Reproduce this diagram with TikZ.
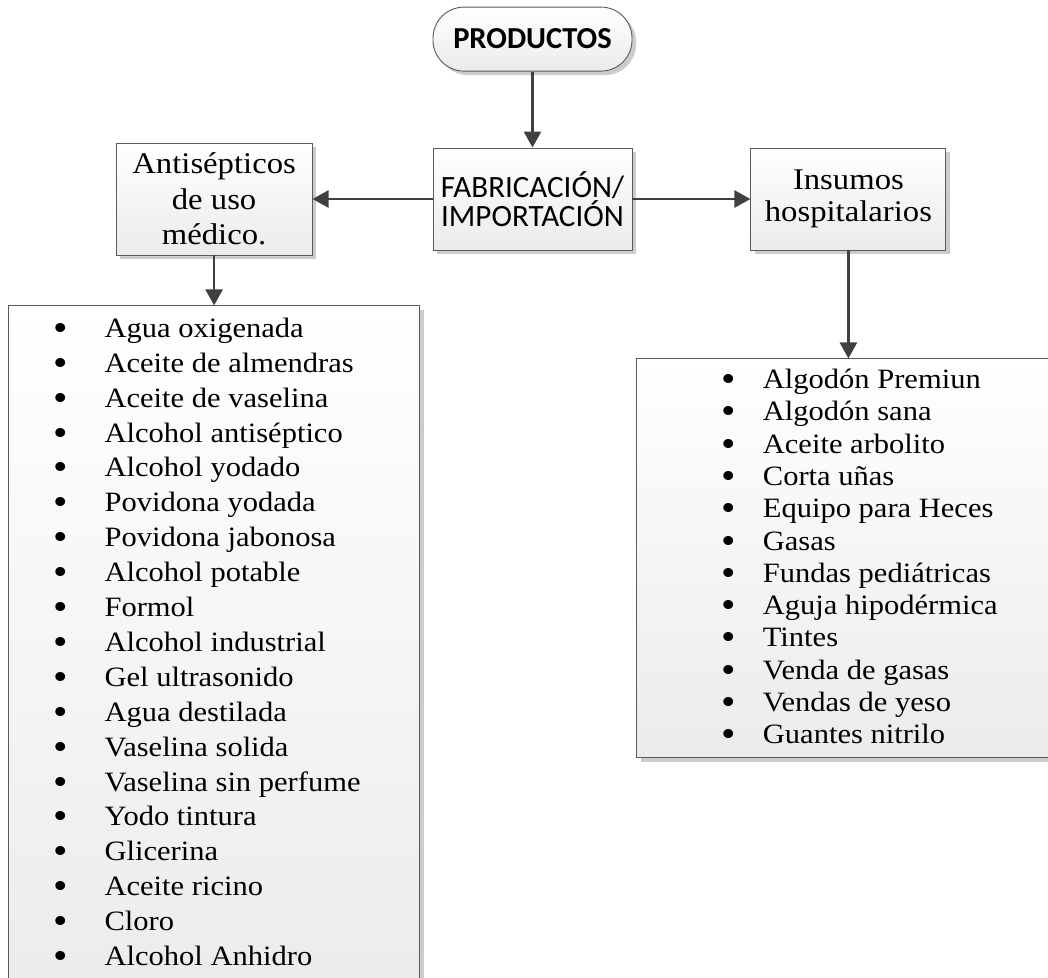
\documentclass[tikz,border=0pt]{standalone}
\usepackage{fontspec}
\setmainfont[FakeStretch=1.09]{Liberation Serif}
\newfontfamily\calfont{Carlito}
\usepackage{graphicx}
\usetikzlibrary{shapes,arrows.meta,positioning,shadows}

\definecolor{linegray}{HTML}{5A5A5A}
\definecolor{arrowgray}{HTML}{404040}
\definecolor{shadowgray}{HTML}{CCCCCC}
\definecolor{fillgray}{HTML}{EBEBEB}

% one line of a bullet list: indent, bullet, gap
\newcommand{\bulmark}{\smash{\raisebox{-3pt}{\scalebox{1.35}{•}}}}
\newcommand{\litem}[1]{\hspace*{38pt}\makebox[28pt][c]{\bulmark}\hspace{30pt}#1\strut\par}
\newcommand{\ritem}[1]{\hspace*{78pt}\makebox[28pt][c]{\bulmark}\hspace{20pt}#1\strut\par}

\begin{document}
\begin{tikzpicture}[
    x=1pt, y=1pt,
    box/.style={rectangle, draw=linegray, line width=0.9pt, top color=white, bottom color=fillgray,
        drop shadow={shadow xshift=4pt, shadow yshift=-4pt, fill=shadowgray, opacity=1}},
    titlebox/.style={box, align=center, inner sep=0pt, font=\fontsize{30}{35.5}\selectfont},
    listbox/.style={box, inner xsep=0pt, inner ysep=7pt, anchor=north},
    arrow/.style={-{Triangle[length=16pt,width=17pt]}, line width=2.6pt, draw=arrowgray}
]
\useasboundingbox (0,0) rectangle (1048,-977);

% central process
\node[box, align=center, inner sep=0pt, minimum width=199pt, minimum height=102pt,
      font=\calfont\fontsize{31}{29}\selectfont] (fab) at (532.5,-199) {FABRICACIÓN/\\IMPORTACIÓN};

% start terminal
\node[box, rounded corners=31pt, minimum width=199pt, minimum height=64pt, inner sep=0pt,
      font=\calfont\bfseries\fontsize{30.5}{30}\selectfont, above=76pt of fab] (prod) {PRODUCTOS};

% the two product groups
\node[titlebox, minimum width=196pt, minimum height=112pt, left=120pt of fab] (anti) {Antisépticos\\de uso\\médico.};
\node[titlebox, minimum width=195pt, minimum height=102pt, right=118pt of fab,
      font=\fontsize{30}{32.5}\selectfont] (insu) {Insumos\\hospitalarios};

% lists
\node[listbox, below=50pt of anti.south, font=\fontsize{28}{34.9}\selectfont] (llist) {%
\begin{minipage}[t][688pt][t]{411pt}
\litem{Agua oxigenada}
\litem{Aceite de almendras}
\litem{Aceite de vaselina}
\litem{Alcohol antiséptico}
\litem{Alcohol yodado}
\litem{Povidona yodada}
\litem{Povidona jabonosa}
\litem{Alcohol potable}
\litem{Formol}
\litem{Alcohol industrial}
\litem{Gel ultrasonido}
\litem{Agua destilada}
\litem{Vaselina solida}
\litem{Vaselina sin perfume}
\litem{Yodo tintura}
\litem{Glicerina}
\litem{Aceite ricino}
\litem{Cloro}
\litem{Alcohol Anhidro}
\end{minipage}};

\node[listbox, below=108pt of insu.south, xshift=-3.5pt, font=\fontsize{28}{32.3}\selectfont] (rlist) {%
\begin{minipage}[t][385pt][t]{416pt}
\ritem{Algodón Premiun}
\ritem{Algodón sana}
\ritem{Aceite arbolito}
\ritem{Corta uñas}
\ritem{Equipo para Heces}
\ritem{Gasas}
\ritem{Fundas pediátricas}
\ritem{Aguja hipodérmica}
\ritem{Tintes}
\ritem{Venda de gasas}
\ritem{Vendas de yeso}
\ritem{Guantes nitrilo}
\end{minipage}};

% connectors
\draw[arrow] (prod) -- (fab);
\draw[arrow] (fab) -- (anti);
\draw[arrow] (fab) -- (insu);
\draw[arrow] (anti.south) -- (anti.south |- llist.north);
\draw[arrow] (insu.south) -- (insu.south |- rlist.north);

\end{tikzpicture}
\end{document}
